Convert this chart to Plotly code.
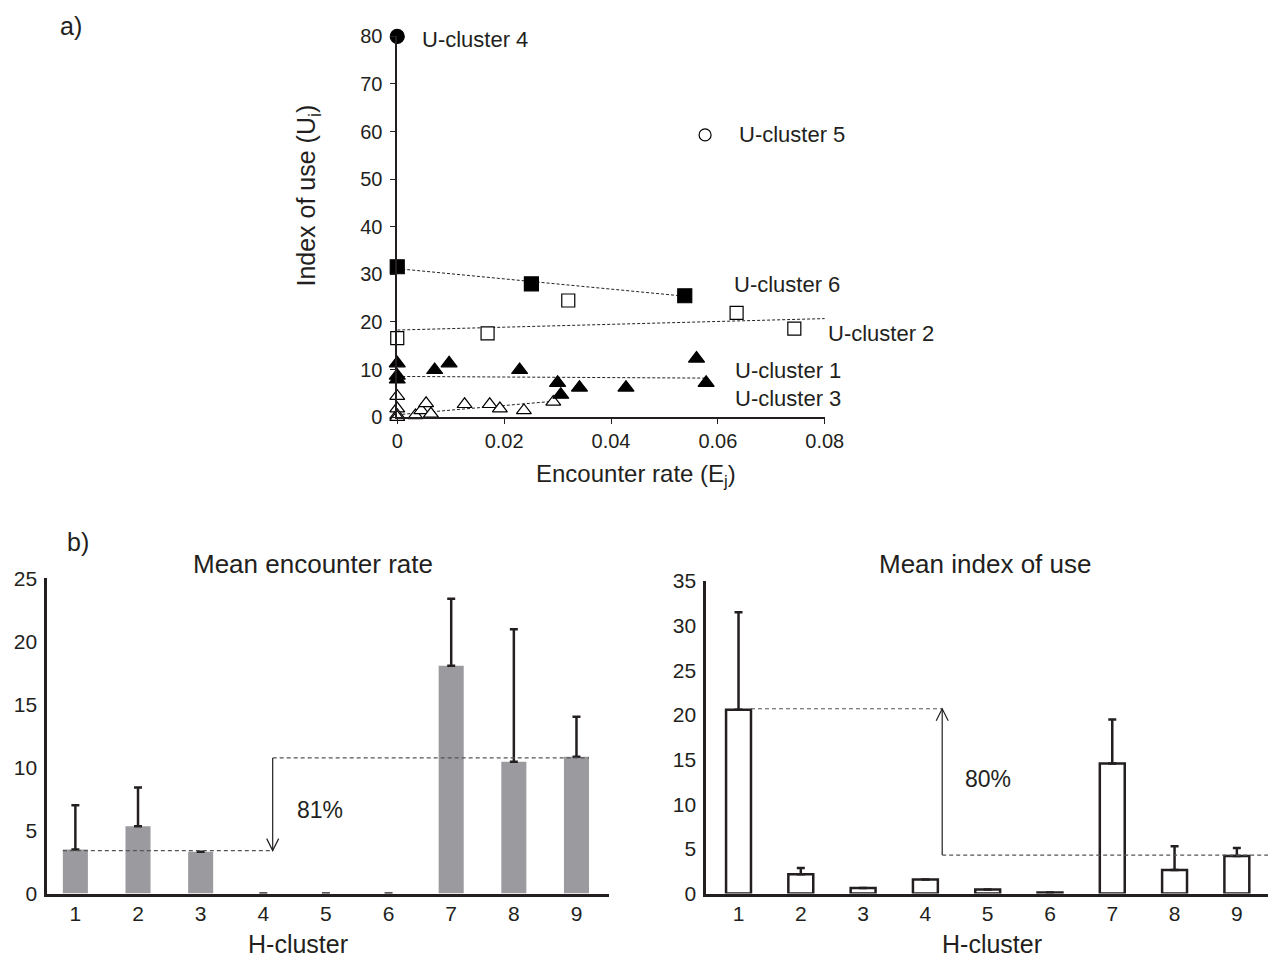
import plotly.graph_objects as go

# ---------------- data: panel a) ----------------
u4_x = [0.0]
u4_y = [80.0]
u5_x = [0.0576]
u5_y = [59.3]
u6_x = [0.0, 0.0251, 0.0538]
u6_y = [31.6, 28.0, 25.5]
u2_x = [0.0, 0.0169, 0.0320, 0.0635, 0.0743]
u2_y = [16.6, 17.6, 24.5, 21.9, 18.6]
u1_x = [0.0, 0.0, 0.0, 0.0070, 0.0097, 0.0229, 0.0300, 0.0306, 0.0341, 0.0428, 0.0560, 0.0578]
u1_y = [11.3, 8.7, 7.9, 9.9, 11.3, 9.9, 7.2, 4.7, 6.2, 6.2, 12.3, 7.2]
u3_x = [0.0, 0.0, 0.0, 0.0, 0.0034, 0.0045, 0.0054, 0.0063, 0.0126, 0.0173, 0.0192, 0.0237, 0.0292]
u3_y = [4.4, 1.8, 0.4, 0.0, 0.35, 1.4, 2.9, 0.7, 2.7, 2.7, 1.8, 1.4, 3.2]

trend6_x = [0.0, 0.0530]
trend6_y = [31.2, 25.5]
trend2_x = [0.0, 0.0800]
trend2_y = [18.3, 20.7]
trend1_x = [0.0, 0.0576]
trend1_y = [8.55, 8.2]
trend3_x = [0.0, 0.0300]
trend3_y = [0.5, 3.4]

cluster_labels = ["U-cluster 4", "U-cluster 5", "U-cluster 6", "U-cluster 2", "U-cluster 1", "U-cluster 3"]
label_x = [0.0043, 0.0635, 0.0626, 0.0800, 0.0629, 0.0629]
label_y = [79.4, 59.3, 27.9, 17.6, 9.85, 3.9]

# ---------------- data: panel b) ----------------
h_clusters = [1, 2, 3, 4, 5, 6, 7, 8, 9]
enc_mean = [3.49, 5.33, 3.31, 0, 0, 0, 18.06, 10.45, 10.84]
enc_err = [3.5, 3.07, 0, 0, 0, 0, 5.3, 10.5, 3.18]
use_mean = [20.6, 2.15, 0.62, 1.57, 0.44, 0.1, 14.56, 2.63, 4.2]
use_err = [10.9, 0.7, 0, 0, 0, 0, 4.94, 2.67, 0.9]

enc_low, enc_high = 3.4, 10.75
use_high, use_low = 20.7, 4.3
enc_arrow_x = 4.15
use_arrow_x = 4.27
enc_pct = "81%"
use_pct = "80%"

FONT = "Liberation Sans, Arial, sans-serif"
TXT = "#231f20"
W, H = 1287, 966

fig = go.Figure()

def mk(x, y, symbol, fill, size=13):
    return go.Scatter(x=x, y=y, mode="markers", xaxis="x", yaxis="y", cliponaxis=False,
                      marker=dict(symbol=symbol, size=size, color=fill,
                                  line=dict(color="black", width=1.2)),
                      showlegend=False)

for tx, ty in [(trend6_x, trend6_y), (trend2_x, trend2_y), (trend1_x, trend1_y), (trend3_x, trend3_y)]:
    fig.add_trace(go.Scatter(x=tx, y=ty, mode="lines", xaxis="x", yaxis="y",
                             line=dict(color="#222", width=1, dash="3px,2px"), showlegend=False))

fig.add_trace(mk(u3_x, u3_y, "triangle-up", "white", 13))
fig.add_trace(mk(u1_x, u1_y, "triangle-up", "black", 14))
fig.add_trace(mk(u2_x, u2_y, "square", "white", 13))
fig.add_trace(mk(u6_x, u6_y, "square", "black", 14))
fig.add_trace(mk(u5_x, u5_y, "circle", "white", 12))
fig.add_trace(mk(u4_x, u4_y, "circle", "black", 14))

fig.add_trace(go.Bar(x=h_clusters, y=enc_mean, xaxis="x2", yaxis="y2",
                     marker=dict(color="#9b9a9f", line=dict(width=0)),
                     error_y=dict(type="data", array=enc_err, arrayminus=[0]*9, symmetric=False,
                                  color="#231f20", thickness=2.5, width=4),
                     showlegend=False))
fig.add_trace(go.Bar(x=h_clusters, y=use_mean, xaxis="x3", yaxis="y3",
                     marker=dict(color="white", line=dict(width=2.5, color="#231f20")),
                     error_y=dict(type="data", array=use_err, arrayminus=[0]*9, symmetric=False,
                                  color="#231f20", thickness=2.5, width=4),
                     showlegend=False))

tf_top = dict(family=FONT, size=20, color=TXT)
tf_bot = dict(family=FONT, size=21, color=TXT)

fig.update_layout(
    width=W, height=H,
    margin=dict(l=0, r=0, t=0, b=0),
    paper_bgcolor="white", plot_bgcolor="rgba(0,0,0,0)",
    font=dict(family=FONT, color=TXT),
    bargap=0.6,
    xaxis=dict(domain=[399/W, 835/W], anchor="y", range=[0, 0.08], dtick=0.02,
               showgrid=False, zeroline=False, showline=True, linecolor="#231f20", linewidth=1.5,
               ticks="outside", ticklen=5, tickcolor="#231f20", tickfont=tf_top),
    yaxis=dict(domain=[1-415/H, 1-25/H], anchor="x", range=[0, 80], dtick=10,
               showgrid=False, zeroline=False, showline=True, linecolor="#231f20", linewidth=1.5,
               ticks="outside", ticklen=5, tickcolor="#231f20", tickfont=tf_top, ticklabelstandoff=4),
    xaxis2=dict(domain=[42/W, 615/W], anchor="y2", range=[0.55, 9.52], tickvals=h_clusters,
                showgrid=False, zeroline=False, showline=True, linecolor="#231f20", linewidth=2.5,
                ticks="", tickfont=tf_bot),
    yaxis2=dict(domain=[1-903/H, 1-580/H], anchor="x2", range=[0, 25], dtick=5,
                showgrid=False, zeroline=False, showline=True, linecolor="#231f20", linewidth=2.5,
                ticks="", tickfont=tf_bot, ticklabelstandoff=3),
    xaxis3=dict(domain=[714/W, 1.0], anchor="y3", range=[0.48, 9.5], tickvals=h_clusters,
                showgrid=False, zeroline=False, showline=True, linecolor="#231f20", linewidth=2.5,
                ticks="", tickfont=tf_bot),
    yaxis3=dict(domain=[1-903/H, 1-583/H], anchor="x3", range=[0, 35], dtick=5,
                showgrid=False, zeroline=False, showline=True, linecolor="#231f20", linewidth=2.5,
                ticks="", tickfont=tf_bot, ticklabelstandoff=3),
)

ann = []
for t, lx, ly in zip(cluster_labels, label_x, label_y):
    ann.append(dict(text=t, x=lx, y=ly, xref="x", yref="y", xanchor="left", yanchor="middle",
                    xshift=1 if lx >= 0.08 else 0,
                    showarrow=False, font=dict(family=FONT, size=22, color=TXT)))

def pann(text, x, y, size=21, angle=0, xanchor="center"):
    ann.append(dict(text=text, x=x/W, y=1-y/H, xref="paper", yref="paper", xanchor=xanchor,
                    yanchor="middle", textangle=angle, showarrow=False,
                    font=dict(family=FONT, size=size, color=TXT)))

pann("a)", 66, 14, 25)
pann("b)", 73, 543, 25)
pann("Encounter rate (E<sub>j</sub>)", 642, 475, 24)
pann("Index of use (U<sub>i</sub>)", 308, 188, 25, angle=-90)
pann("Mean encounter rate", 313, 565, 26)
pann("Mean index of use", 998, 565, 26)
pann("H-cluster", 298, 955, 25)
pann("H-cluster", 1006, 955, 25)

ann.append(dict(text=enc_pct, x=4.9, y=6.6, xref="x2", yref="y2", showarrow=False,
                font=dict(family=FONT, size=23, color=TXT)))
ann.append(dict(text=use_pct, x=5.0, y=12.8, xref="x3", yref="y3", showarrow=False,
                font=dict(family=FONT, size=23, color=TXT)))
fig.update_layout(annotations=ann)

dash_line = dict(color="#555", width=1.2, dash="4px,3px")
shapes = [
    dict(type="line", xref="x2", yref="y2", x0=0.8, x1=enc_arrow_x, y0=enc_low, y1=enc_low, line=dash_line),
    dict(type="line", xref="x2", yref="y2", x0=enc_arrow_x, x1=9.2, y0=enc_high, y1=enc_high, line=dash_line),
    dict(type="line", xref="x2", yref="y2", x0=enc_arrow_x, x1=enc_arrow_x, y0=enc_high, y1=enc_low,
         line=dict(color="#231f20", width=1.2)),
    dict(type="path", xref="x2", yref="y2", xsizemode="pixel", ysizemode="pixel",
         xanchor=enc_arrow_x, yanchor=enc_low, path="M-6,12 L0,0 L6,12",
         line=dict(color="#231f20", width=1.2)),
    dict(type="line", xref="x3", yref="y3", x0=1.2, x1=use_arrow_x, y0=use_high, y1=use_high, line=dash_line),
    dict(type="line", xref="x3", yref="y3", x0=use_arrow_x, x1=9.5, y0=use_low, y1=use_low, line=dash_line),
    dict(type="line", xref="x3", yref="y3", x0=use_arrow_x, x1=use_arrow_x, y0=use_low, y1=use_high,
         line=dict(color="#231f20", width=1.2)),
    dict(type="path", xref="x3", yref="y3", xsizemode="pixel", ysizemode="pixel",
         xanchor=use_arrow_x, yanchor=use_high, path="M-6,-12 L0,0 L6,-12",
         line=dict(color="#231f20", width=1.2)),
]
fig.update_layout(shapes=shapes)

fig.write_html("out.html")
